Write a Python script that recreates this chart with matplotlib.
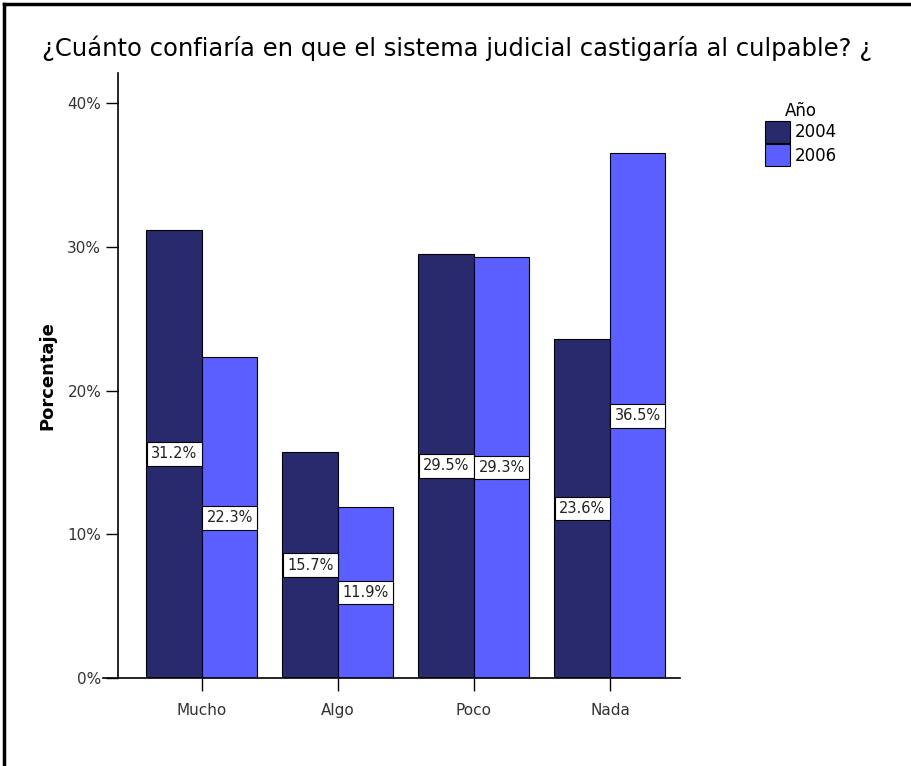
import numpy as np
import matplotlib
matplotlib.use("Agg")
import matplotlib.pyplot as plt
from matplotlib.lines import Line2D

categories = ["Mucho", "Algo", "Poco", "Nada"]
years = ["2004", "2006"]
pct_2004 = [31.2, 15.7, 29.5, 23.6]
pct_2006 = [22.3, 11.9, 29.3, 36.5]
yticks = [0, 10, 20, 30, 40]

col_2004 = "#292a6e"
col_2006 = "#5b5fff"

fig = plt.figure(figsize=(9.12, 7.66), dpi=100)
ax = fig.add_axes([0.1129, 0.1149, 0.6327, 0.7898])

x = np.arange(len(categories))
w = 0.408
for vals, off, col in [(pct_2004, -w / 2, col_2004), (pct_2006, w / 2, col_2006)]:
    bars = ax.bar(x + off, vals, width=w, color=col, edgecolor="black", linewidth=0.8)
    for b, v in zip(bars, vals):
        ax.text(b.get_x() + b.get_width() / 2, v / 2, f"{v:.1f}%",
                ha="center", va="center", fontsize=10.5, color="#222222",
                bbox=dict(boxstyle="square,pad=0.3", fc="white", ec="black", lw=0.8))

ax.set_xlim(-0.728, 3.515)
ax.set_ylim(0, 42.09)
ax.spines["top"].set_visible(False)
ax.spines["right"].set_visible(False)
ax.spines["left"].set_position(("data", -0.618))
ax.spines["left"].set_bounds(0, 42.09)
ax.spines["left"].set_linewidth(1.2)
ax.spines["bottom"].set_linewidth(1.2)

ax.set_yticks(yticks)
ax.set_yticklabels([f"{t}%" for t in yticks], fontsize=11, color="#333333")
ax.set_xticks(x)
ax.set_xticklabels(categories, fontsize=11, color="#333333")
ax.tick_params(axis="y", length=9, width=1, pad=3)
ax.tick_params(axis="x", length=9, width=1, pad=9)
ax.set_ylabel("Porcentaje", fontsize=13, fontweight="bold")
ax.yaxis.set_label_coords(-0.08, 0.5)

fig.text(0.046, 0.937, "¿Cuánto confiaría en que el sistema judicial castigaría al culpable? ¿",
         fontsize=17.5, ha="left", va="center")

handles = [plt.Rectangle((0, 0), 1, 1, fc=c, ec="black", lw=0.8) for c in (col_2004, col_2006)]
leg = fig.legend(handles, years, title="Año", loc="upper left",
                 bbox_to_anchor=(0.831, 0.876), frameon=False, fontsize=12,
                 title_fontsize=12, handlelength=1.5, handleheight=1.6,
                 handletextpad=0.3, labelspacing=0.1, borderaxespad=0)

fig.add_artist(Line2D([4 / 912, 4 / 912], [0, 1 - 4 / 766], color="black", lw=2.5))
fig.add_artist(Line2D([4 / 912, 1], [1 - 4 / 766, 1 - 4 / 766], color="black", lw=2.5))

fig.savefig("out.png", dpi=100)
